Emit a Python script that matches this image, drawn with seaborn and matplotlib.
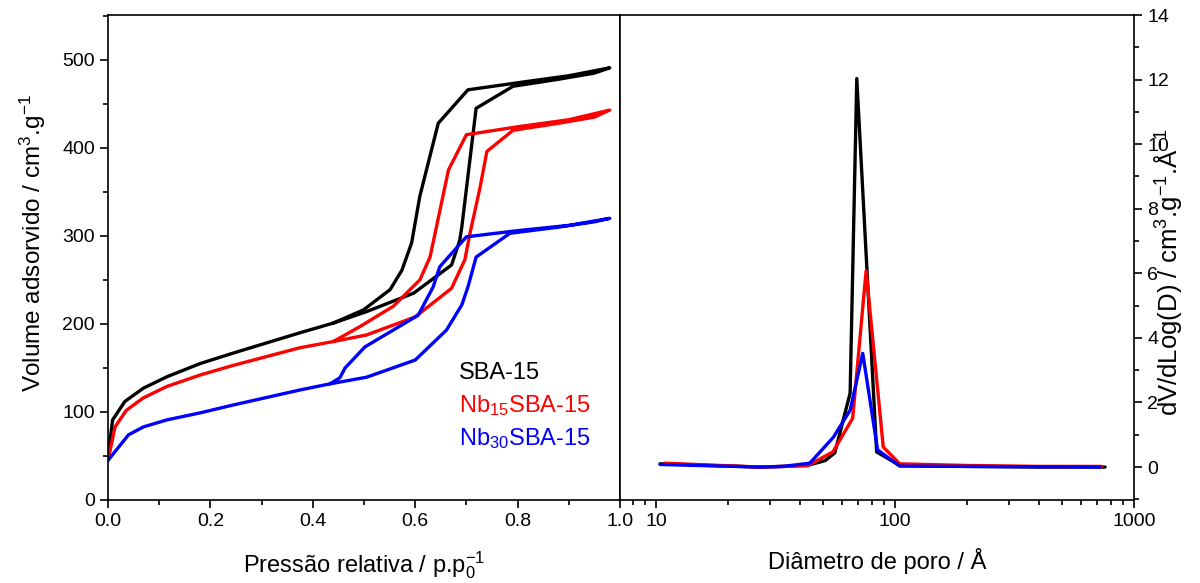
import numpy as np
import pandas as pd
import matplotlib
matplotlib.use("Agg")
import matplotlib.pyplot as plt
import seaborn as sns
from matplotlib.ticker import MultipleLocator, LogLocator, NullFormatter

sns.set_theme(style="ticks")
plt.rcParams['font.family'] = ['Liberation Sans', 'DejaVu Sans']
plt.rcParams['mathtext.fontset'] = 'custom'
plt.rcParams['mathtext.rm'] = 'Liberation Sans'
plt.rcParams['mathtext.it'] = 'Liberation Sans:italic'
plt.rcParams['mathtext.bf'] = 'Liberation Sans:bold'
for k in ['text.color', 'axes.labelcolor', 'xtick.color', 'ytick.color', 'axes.edgecolor']:
    plt.rcParams[k] = 'black'

# ---------------- Data: N2 isotherms (left) ----------------
samples = ["SBA-15", "Nb$_{15}$SBA-15", "Nb$_{30}$SBA-15"]
colors = ["#000000", "#ff0000", "#0000ff"]

sba_ads_p = [0.0, 0.009, 0.033, 0.069, 0.115, 0.18, 0.245, 0.375, 0.44, 0.505, 0.597, 0.671, 0.687, 0.691, 0.719, 0.791, 0.88, 0.95, 0.98]
sba_ads_v = [49, 91, 112, 127, 140, 155, 167, 190, 201, 214, 235, 267, 295, 310, 445, 470, 478, 485, 491]
sba_des_p = [0.98, 0.9, 0.8, 0.703, 0.645, 0.609, 0.593, 0.574, 0.551, 0.499, 0.44]
sba_des_v = [491, 482, 474, 466, 428, 345, 292, 261, 239, 216, 201]

nb15_ads_p = [0.0, 0.0137, 0.036, 0.069, 0.115, 0.18, 0.245, 0.375, 0.44, 0.505, 0.6, 0.671, 0.697, 0.707, 0.727, 0.74, 0.791, 0.88, 0.95, 0.98]
nb15_ads_v = [45, 83, 102, 116, 129, 142, 153, 173, 180, 187.5, 208, 240.5, 273, 303, 356, 396, 420, 428, 435, 443]
nb15_des_p = [0.98, 0.9, 0.8, 0.70, 0.665, 0.629, 0.609, 0.557, 0.492, 0.44]
nb15_des_v = [443, 432, 424, 415, 375, 276, 250, 220, 197, 180]

nb30_ads_p = [0.0, 0.04, 0.069, 0.115, 0.18, 0.245, 0.375, 0.434, 0.505, 0.6, 0.661, 0.691, 0.703, 0.719, 0.785, 0.88, 0.95, 0.98]
nb30_ads_v = [45, 74, 83, 91, 99, 108, 125, 132, 139.5, 159, 193, 221.6, 242, 276, 303, 310, 316, 320]
nb30_des_p = [0.98, 0.9, 0.8, 0.70, 0.648, 0.635, 0.606, 0.557, 0.502, 0.463, 0.453, 0.434]
nb30_des_v = [320, 312, 306, 299, 265, 242, 210, 193, 174, 150, 139, 132]

# ---------------- Data: pore size distribution (right) ----------------
sba_d = [10.4, 27.2, 34, 44, 51, 56, 64.9, 69.2, 83.8, 104.6, 200, 400, 757]
sba_dv = [0.1, 0.0, 0.02, 0.07, 0.2, 0.44, 2.29, 12.03, 0.47, 0.05, 0.02, 0.0, 0.0]

nb15_d = [10.9, 27.2, 43, 55, 66.5, 75.7, 89.3, 104.6, 200, 400, 733]
nb15_dv = [0.12, 0.0, 0.04, 0.47, 1.51, 6.08, 0.62, 0.1, 0.05, 0.02, 0.02]

nb30_d = [10.4, 27.2, 34, 44, 55.2, 64.9, 73.3, 84.6, 104.6, 200, 400, 721]
nb30_dv = [0.08, 0.0, 0.02, 0.12, 0.92, 1.76, 3.52, 0.53, 0.03, 0.02, 0.01, 0.0]

# build tidy frames
iso_rows = []
for name, ap, av, dp, dv in [
    (samples[0], sba_ads_p, sba_ads_v, sba_des_p, sba_des_v),
    (samples[1], nb15_ads_p, nb15_ads_v, nb15_des_p, nb15_des_v),
    (samples[2], nb30_ads_p, nb30_ads_v, nb30_des_p, nb30_des_v),
]:
    for i, (p, v) in enumerate(zip(list(ap) + list(dp), list(av) + list(dv))):
        iso_rows.append({"sample": name, "order": i, "p": p, "v": v})
iso = pd.DataFrame(iso_rows)

psd_rows = []
for name, d, dv in [(samples[0], sba_d, sba_dv), (samples[1], nb15_d, nb15_dv), (samples[2], nb30_d, nb30_dv)]:
    for x, y in zip(d, dv):
        psd_rows.append({"sample": name, "d": x, "dv": y})
psd = pd.DataFrame(psd_rows)

palette = dict(zip(samples, colors))

fig = plt.figure(figsize=(12, 5.83), dpi=100)
ax1 = fig.add_axes([108/1200, 83/583, 512/1200, 485/583])
ax2 = fig.add_axes([620/1200, 83/583, 514/1200, 485/583])

for name in samples:
    sub = iso[iso["sample"] == name]
    sns.lineplot(data=sub, x="p", y="v", sort=False, estimator=None, color=palette[name],
                 lw=2.4, ax=ax1, legend=False)

for name in samples:
    sub = psd[psd["sample"] == name]
    sns.lineplot(data=sub, x="d", y="dv", sort=False, estimator=None, color=palette[name],
                 lw=2.4, ax=ax2, legend=False)

TICK_FS = 14
LABEL_FS = 17

# ---- left axes styling
ax1.set_xlim(0, 1.0)
ax1.set_ylim(0, 551)
ax1.xaxis.set_major_locator(MultipleLocator(0.2))
ax1.xaxis.set_minor_locator(MultipleLocator(0.1))
ax1.yaxis.set_major_locator(MultipleLocator(100))
ax1.yaxis.set_minor_locator(MultipleLocator(50))
ax1.xaxis.set_major_formatter(matplotlib.ticker.FormatStrFormatter('%.1f'))
ax1.tick_params(which='major', length=6, width=1.2, labelsize=TICK_FS, direction='out')
ax1.tick_params(which='minor', length=3.5, width=1.2, direction='out')
ax1.set_xlabel("Pressão relativa / p.p$_0^{-1}$", fontsize=LABEL_FS, labelpad=14)
ax1.set_ylabel("Volume adsorvido / cm$^3$.g$^{-1}$", fontsize=17.5, labelpad=10)
ax1.yaxis.label.set_y(0.53)

# legend as text
for i, (name, c) in enumerate(zip(samples, colors)):
    ax1.text(0.685, 0.262 - i * 0.068, name, color=c, fontsize=17, transform=ax1.transAxes,
             va='center', ha='left')

# ---- right axes styling
ax2.set_xscale('log')
ax2.set_xlim(7.07, 1000)
ax2.set_ylim(-1.02, 14)
ax2.xaxis.set_major_locator(LogLocator(base=10))
ax2.xaxis.set_minor_locator(LogLocator(base=10, subs=np.arange(2, 10)))
ax2.xaxis.set_minor_formatter(NullFormatter())
ax2.xaxis.set_major_formatter(matplotlib.ticker.FuncFormatter(lambda v, p: f"{int(round(v))}"))
ax2.yaxis.tick_right()
ax2.yaxis.set_label_position('right')
ax2.yaxis.set_major_locator(MultipleLocator(2))
ax2.yaxis.set_minor_locator(MultipleLocator(1))
ax2.tick_params(which='major', length=6, width=1.2, labelsize=TICK_FS, direction='out')
ax2.tick_params(which='minor', length=3.5, width=1.2, direction='out')
ax2.tick_params(axis='y', which='both', left=False, right=True)
ax2.set_xlabel("Diâmetro de poro / Å", fontsize=LABEL_FS, labelpad=13)
ax2.set_ylabel("dV/dLog(D) / cm$^3$.g$^{-1}$.Å$^{-1}$", fontsize=18.5, labelpad=-12)
ax2.yaxis.label.set_y(0.47)

for ax in (ax1, ax2):
    for s in ax.spines.values():
        s.set_visible(True)
        s.set_linewidth(1.2)
        s.set_color('black')

fig.savefig("out.png", dpi=100, facecolor='white')
